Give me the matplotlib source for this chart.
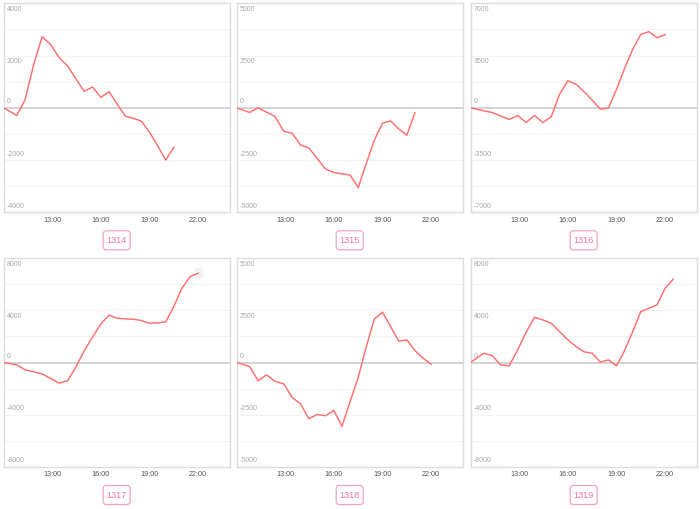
import matplotlib
matplotlib.use("Agg")
import matplotlib.pyplot as plt
from matplotlib.patches import FancyBboxPatch
from matplotlib.transforms import IdentityTransform

# ---------------- data ----------------
times = [10.0, 10.8, 11.32, 11.84, 12.37, 12.9, 13.42, 13.94, 14.45, 14.97,
         15.48, 16.0, 16.5, 17.0, 17.5, 18.0, 18.5, 19.0, 19.5, 20.0,
         20.5, 21.0, 21.5, 22.0, 22.5]

codes = ["1314", "1315", "1316", "1317", "1318", "1319"]

pnl_1314 = [0, -295, 308, 1630, 2720, 2420, 1920, 1600, 1115, 630, 795, 400,
            615, 150, -320, -400, -510, -935, -1450, -2000, -1510]
pnl_1315 = [0, -224, 0, -208, -417, -1120, -1218, -1780, -1923, -2420, -2933,
            -3093, -3157, -3221, -3814, -2660, -1538, -737, -625, -1010, -1314, -240]
pnl_1316 = [0, -200, -313, -537, -783, -515, -984, -515, -984, -604, 895, 1812,
            1588, 1074, 515, -90, -22, 1230, 2640, 3915, 4922, 5100, 4698, 4900]
pnl_1317 = [0, -178, -560, -713, -866, -1223, -1580, -1400, -357, 892, 1936,
            2955, 3618, 3389, 3338, 3312, 3210, 3006, 3032, 3108, 4280, 5680, 6573, 6828]
pnl_1318 = [0, -191, -876, -589, -908, -1019, -1672, -1975, -2690, -2484, -2548,
            -2293, -3057, -1863, -717, 764, 2086, 2404, 1720, 1019, 1083, 573, 207, -80]
pnl_1319 = [0, 713, 535, -178, -255, 968, 2318, 3465, 3261, 3006, 2369, 1732,
            1223, 815, 713, 25, 204, -255, 917, 2369, 3898, 4153, 4408, 5682, 6369]

series = [pnl_1314, pnl_1315, pnl_1316, pnl_1317, pnl_1318, pnl_1319]
y_limits = [4000, 5000, 7000, 8000, 5000, 8000]

x_ticks = [13, 16, 19, 22]
x_tick_labels = ["13:00", "16:00", "19:00", "22:00"]

# ---------------- style ----------------
W, H = 700, 509
LINE = "#ff6e6e"
FRAME = "#dcdcdc"
GRID = "#f3f3f3"
ZERO = "#c8c8c8"
YLAB = "#a8a8a8"
XLAB = "#555555"
PINK_EDGE = "#f7a3bf"
PINK_TEXT = "#f0759c"
FONT = ["Liberation Sans", "DejaVu Sans"]

plt.rcParams["font.family"] = FONT

fig = plt.figure(figsize=(W / 100, H / 100), dpi=100)

col_left = [3.7, 236.7, 470.7]
row_top = [3.3, 258.0]
pw, ph = 226.0, 209.0

for i, (vals, ymax, code) in enumerate(zip(series, y_limits, codes)):
    r, c = divmod(i, 3)
    left = col_left[c]
    top = row_top[r]
    ax = fig.add_axes([left / W, 1 - (top + ph) / H, pw / W, ph / H])
    ax.set_xlim(10.0, 23.95)
    ax.set_ylim(-ymax, ymax)

    # grid
    step = ymax / 4
    for k in range(-3, 4):
        if k == 0:
            continue
        ax.axhline(k * step, color=GRID, lw=0.8, zorder=0)
    ax.axhline(0, color=ZERO, lw=1.1, zorder=1)

    t = times[:len(vals)]
    if code == "1317":
        ax.plot(t[-1], vals[-1], "o", ms=8, color="#f3f3f3", mec="none", zorder=1)
    ax.plot(t, vals, color=LINE, lw=1.05, zorder=3)

    for s in ax.spines.values():
        s.set_color(FRAME)
        s.set_linewidth(1.0)

    ax.set_yticks([])
    ax.set_xticks(x_ticks)
    ax.set_xticklabels(x_tick_labels)
    ax.tick_params(axis="x", length=0, pad=3.2, labelsize=5.2, colors=XLAB)

    # y labels inside the plot
    for v in [ymax, ymax / 2, 0, -ymax / 2, -ymax]:
        dy = -6 if v > 0 else 6
        ax.annotate(f"{int(v)}", xy=(0, v), xycoords=("axes fraction", "data"),
                    xytext=(3, dy), textcoords="offset pixels",
                    ha="left", va="center", fontsize=5.0, color=YLAB)

    # code box below the plot
    cx = left + pw / 2
    cy = H - (top + ph + 28)
    bw, bh = 27, 19
    box = FancyBboxPatch((cx - bw / 2, cy - bh / 2), bw, bh,
                         boxstyle="round,pad=0,rounding_size=3",
                         fc="white", ec=PINK_EDGE, lw=0.9,
                         transform=IdentityTransform(), figure=fig)
    fig.patches.append(box)
    fig.text(cx / W, cy / H, code, ha="center", va="center",
             fontsize=6.6, color=PINK_TEXT)

fig.savefig("out.png", dpi=100, facecolor="white")
